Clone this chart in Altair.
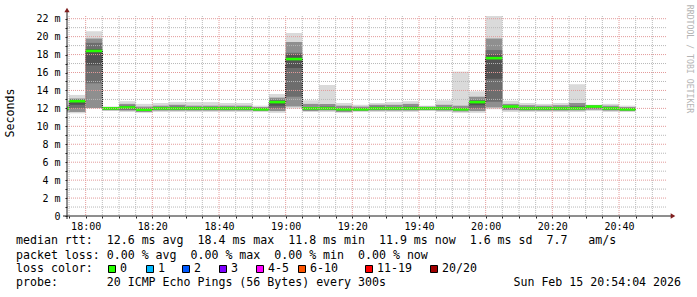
import altair as alt
import pandas as pd

DAY = "2026-02-15"

# ---- data, values in milliseconds ----
start_times = ["17:50", "17:55", "18:00", "18:05", "18:10", "18:15", "18:20", "18:25",
               "18:30", "18:35", "18:40", "18:45", "18:50", "18:55", "19:00", "19:05",
               "19:10", "19:15", "19:20", "19:25", "19:30", "19:35", "19:40", "19:45",
               "19:50", "19:55", "20:00", "20:05", "20:10", "20:15", "20:20", "20:25",
               "20:30", "20:35", "20:40"]
median_ms = [12.0, 12.8, 18.4, 12.0, 12.1, 11.85, 12.0, 12.0, 12.0, 12.0, 12.0, 12.0,
             11.9, 12.7, 17.5, 12.0, 12.0, 11.9, 11.9, 12.0, 12.0, 12.0, 12.0, 12.0,
             11.9, 12.7, 17.6, 12.2, 12.0, 12.0, 12.0, 12.0, 12.2, 12.0, 11.9]
ping_min = [11.5, 11.45, 12.0, 11.7, 11.6, 11.5, 11.6, 11.6, 11.6, 11.6, 11.6, 11.6,
            11.6, 11.5, 12.0, 11.6, 11.6, 11.5, 11.6, 11.6, 11.6, 11.6, 11.7, 11.6,
            11.5, 11.5, 11.9, 11.6, 11.6, 11.6, 11.6, 11.6, 11.7, 11.6, 11.6]
ping_q10 = [11.65, 11.6, 12.05, 11.8, 11.75, 11.6, 11.75, 11.75, 11.75, 11.75, 11.75, 11.75,
            11.7, 11.7, 12.2, 11.7, 11.75, 11.6, 11.7, 11.75, 11.75, 11.75, 11.8, 11.75,
            11.65, 11.7, 12.1, 11.8, 11.75, 11.75, 11.75, 11.75, 11.85, 11.75, 11.7]
ping_q25 = [11.8, 12.0, 14.8, 11.85, 11.85, 11.7, 11.85, 11.85, 11.85, 11.85, 11.85, 11.85,
            11.8, 12.0, 13.3, 11.85, 11.85, 11.75, 11.8, 11.85, 11.85, 11.85, 11.9, 11.85,
            11.8, 12.0, 12.75, 11.95, 11.85, 11.85, 11.85, 11.9, 12.0, 11.85, 11.8]
ping_q40 = [11.95, 12.4, 16.8, 11.95, 12.0, 11.8, 11.95, 11.95, 11.95, 11.95, 11.95, 11.95,
            11.85, 12.3, 16.5, 11.95, 11.95, 11.85, 11.85, 11.95, 11.95, 11.95, 11.95, 11.95,
            11.85, 12.35, 15.3, 12.1, 11.95, 11.95, 11.95, 11.95, 12.1, 11.95, 11.85]
ping_q60 = [12.05, 12.85, 18.6, 12.05, 12.2, 11.9, 12.05, 12.1, 12.05, 12.05, 12.05, 12.05,
            11.95, 12.8, 18.0, 12.05, 12.05, 11.95, 11.95, 12.1, 12.05, 12.1, 12.05, 12.05,
            11.95, 12.8, 18.0, 12.25, 12.05, 12.05, 12.05, 12.1, 12.25, 12.05, 11.95]
ping_q75 = [12.1, 13.0, 19.3, 12.1, 12.3, 12.0, 12.15, 12.2, 12.15, 12.15, 12.1, 12.1,
            12.0, 12.95, 18.2, 12.15, 12.2, 12.05, 12.05, 12.2, 12.15, 12.2, 12.1, 12.15,
            12.05, 12.95, 18.5, 12.3, 12.15, 12.1, 12.15, 12.3, 12.3, 12.1, 12.0]
ping_q90 = [12.2, 13.1, 19.8, 12.15, 12.5, 12.2, 12.3, 12.4, 12.3, 12.3, 12.3, 12.3,
            12.15, 13.2, 19.4, 12.5, 12.5, 12.3, 12.2, 12.4, 12.4, 12.5, 12.2, 12.4,
            12.3, 13.3, 19.8, 12.5, 12.35, 12.3, 12.35, 12.6, 12.35, 12.3, 12.15]
ping_max = [12.4, 13.5, 20.6, 12.2, 12.8, 12.5, 12.6, 12.7, 12.7, 12.7, 12.6, 12.6,
            12.3, 13.6, 20.4, 12.9, 14.6, 12.6, 12.4, 12.6, 12.7, 12.8, 12.3, 12.9,
            16.1, 13.9, 22.4, 12.85, 12.6, 12.5, 12.6, 14.7, 12.4, 12.5, 12.3]

x_major_labels = ["18:00", "18:20", "18:40", "19:00", "19:20", "19:40", "20:00", "20:20", "20:40"]
y_tick_values = list(range(0, 23))

rtt_stats = ["12.6 ms avg", "18.4 ms max", "11.8 ms min", "11.9 ms now", "1.6 ms sd", "7.7   am/s"]
loss_stats = ["0.00 % avg", "0.00 % max", "0.00 % min", "0.00 % now"]
loss_labels = ["0", "1", "2", "3", "4-5", "6-10", "11-19", "20/20"]
loss_colors = ["#26ff00", "#00b8ff", "#0059ff", "#7e00ff", "#ff00ff", "#ff5500", "#ff0000", "#a00000"]
probe_text = "20 ICMP Echo Pings (56 Bytes) every 300s"
stamp_text = "Sun Feb 15 20:54:04 2026"
watermark = "RRDTOOL / TOBI OETIKER"

# ---- layout (pixels) ----
W, H = 600, 200
legend_sq_left = [41, 79, 115, 152, 189, 231, 298, 363]
MONO = "DejaVu Sans Mono"
FS = 11.6


def ms(hhmm):
    return int(pd.Timestamp(f"{DAY} {hhmm}", tz="UTC").value // 10**6)


STEP = 300000
dom = [ms("17:54:24"), ms("20:54:24")]
xs = alt.Scale(type="utc", domain=dom)
ys = alt.Scale(domain=[0, 22.3], nice=False, zero=False)

starts = [ms(t) for t in start_times]
df = pd.DataFrame({
    "start": starts, "end": [s + STEP for s in starts],
    "median": median_ms, "mn": ping_min, "q10": ping_q10, "q25": ping_q25,
    "q40": ping_q40, "q60": ping_q60, "q75": ping_q75, "q90": ping_q90, "mx": ping_max,
})

minor_x = list(range(ms("17:55"), ms("20:55"), STEP))
major_x = [ms(t) for t in x_major_labels]
grid_minor_x = pd.DataFrame({"t": [t for t in minor_x if t not in major_x]})
grid_major_x = pd.DataFrame({"t": major_x})
grid_minor_y = pd.DataFrame({"v": [v for v in y_tick_values if v % 2 == 1]})
grid_major_y = pd.DataFrame({"v": [v for v in y_tick_values if v % 2 == 0 and v > 0]})

x_axis = alt.Axis(values=minor_x, title=None, grid=False, domain=False,
                  labelExpr="utcminutes(datum.value) % 20 == 0 ? utcFormat(datum.value, '%H:%M') : ''",
                  tickSize=2, tickColor="#1f1f1f", labelFont=MONO, labelFontSize=10,
                  labelColor="#000000", labelPadding=3, labelFlush=False, labelOverlap=False)
y_axis = alt.Axis(values=y_tick_values, title=None, grid=False, domain=False,
                  labelExpr="datum.value % 2 == 0 ? (datum.value == 0 ? '0' : datum.value + ' m') : ''",
                  tickSize=2, tickColor="#1f1f1f", labelFont=MONO, labelFontSize=10,
                  labelColor="#000000", labelPadding=5, labelOverlap=False)


def X(f):
    return alt.X(f, scale=xs, axis=x_axis)


def Y(f):
    return alt.Y(f, scale=ys, axis=y_axis)


base = alt.Chart(df)


def band(lo, hi, color):
    return base.mark_rect(color=color, clip=True).encode(
        x=X("start:T"), x2="end:T", y=Y(f"{lo}:Q"), y2=f"{hi}:Q")


bands = [band("mn", "mx", "#dadada"), band("q10", "q90", "#8f8f8f"),
         band("q25", "q75", "#6d6d6d"), band("q40", "q60", "#525252")]

conn = pd.DataFrame({"t": starts[1:], "a": median_ms[:-1], "b": median_ms[1:]})
connectors = alt.Chart(conn).mark_rule(color="#000000", strokeDash=[1, 1], strokeWidth=1, clip=True).encode(
    x=X("t:T"), y=Y("a:Q"), y2="b:Q")
median_line = base.mark_rule(color=loss_colors[0], strokeWidth=2.6, clip=True).encode(
    x=X("start:T"), x2="end:T", y=Y("median:Q"))

gmx = alt.Chart(grid_minor_x).mark_rule(color="#b8b8b8", strokeDash=[1, 1], strokeWidth=1).encode(
    x=X("t:T"), y=alt.value(0), y2=alt.value(H))
gMx = alt.Chart(grid_major_x).mark_rule(color="#e39a9a", strokeDash=[1, 1], strokeWidth=1).encode(
    x=X("t:T"), y=alt.value(0), y2=alt.value(H))
gmy = alt.Chart(grid_minor_y).mark_rule(color="#b8b8b8", strokeDash=[1, 1], strokeWidth=1).encode(
    y=Y("v:Q"), x=alt.value(0), x2=alt.value(W))
gMy = alt.Chart(grid_major_y).mark_rule(color="#e39a9a", strokeDash=[1, 1], strokeWidth=1).encode(
    y=Y("v:Q"), x=alt.value(0), x2=alt.value(W))

one = pd.DataFrame({"k": [0]})
x_axis_line = alt.Chart(one).mark_rule(color="#1f1f1f").encode(
    x=alt.value(-4), x2=alt.value(W + 4), y=alt.value(H))
y_axis_line = alt.Chart(one).mark_rule(color="#1f1f1f").encode(
    x=alt.value(0), y=alt.value(H + 3), y2=alt.value(-4))
arrow_up = alt.Chart(one).mark_point(shape="triangle-up", filled=True, color="#801f1f", size=28, opacity=1).encode(
    x=alt.value(0), y=alt.value(-6))
arrow_right = alt.Chart(one).mark_point(shape="triangle-right", filled=True, color="#801f1f", size=28, opacity=1).encode(
    x=alt.value(W + 6), y=alt.value(H))


def nb(s):
    return s.replace(" ", "\u00a0")


def text_layer(s, x, y, align="left", angle=0, size=FS, color="#000000"):
    return alt.Chart(pd.DataFrame({"s": [nb(s)]})).mark_text(
        align=align, baseline="middle", font=MONO, fontSize=size, color=color, angle=angle).encode(
        x=alt.value(x), y=alt.value(y), text="s:N")


line1 = "median rtt:  " + "  ".join(rtt_stats)
line2 = "packet loss: " + "  ".join(loss_stats)
texts = [
    text_layer(line1, -51, 225),
    text_layer(line2, -51, 239.7),
    text_layer("loss color:", -51, 253),
    text_layer("probe:       " + probe_text, -51, 267.3),
    text_layer(stamp_text, 614, 267.3, align="right"),
    text_layer("Seconds", -56, 97, align="center", angle=270),
    text_layer(watermark, 622, 43, align="center", angle=90, size=8.2, color="#b4b4b4"),
]

leg = pd.DataFrame({"label": loss_labels, "color": loss_colors,
                    "sx": [v + 4 for v in legend_sq_left], "lx": [v + 12 for v in legend_sq_left]})
leg_sq = alt.Chart(leg).mark_square(size=49, filled=True, stroke="#000000", strokeWidth=1, opacity=1).encode(
    x=alt.X("sx:Q", scale=None), y=alt.value(253),
    color=alt.Color("color:N", scale=None))
leg_txt = alt.Chart(leg).mark_text(align="left", baseline="middle", font=MONO, fontSize=FS, color="#000000").encode(
    x=alt.X("lx:Q", scale=None), y=alt.value(253), text="label:N")

chart = alt.layer(
    *bands, connectors, median_line,
    gmx, gmy, gMx, gMy,
    x_axis_line, y_axis_line, arrow_up, arrow_right,
    *texts, leg_sq, leg_txt,
).properties(
    width=W, height=H,
    autosize=alt.AutoSizeParams(type="none"),
    padding={"left": 67, "top": 16, "right": 30, "bottom": 81},
    background="#ffffff",
).configure_view(stroke=None)

chart.save("out.html", embed_options={"renderer": "svg", "actions": False})
